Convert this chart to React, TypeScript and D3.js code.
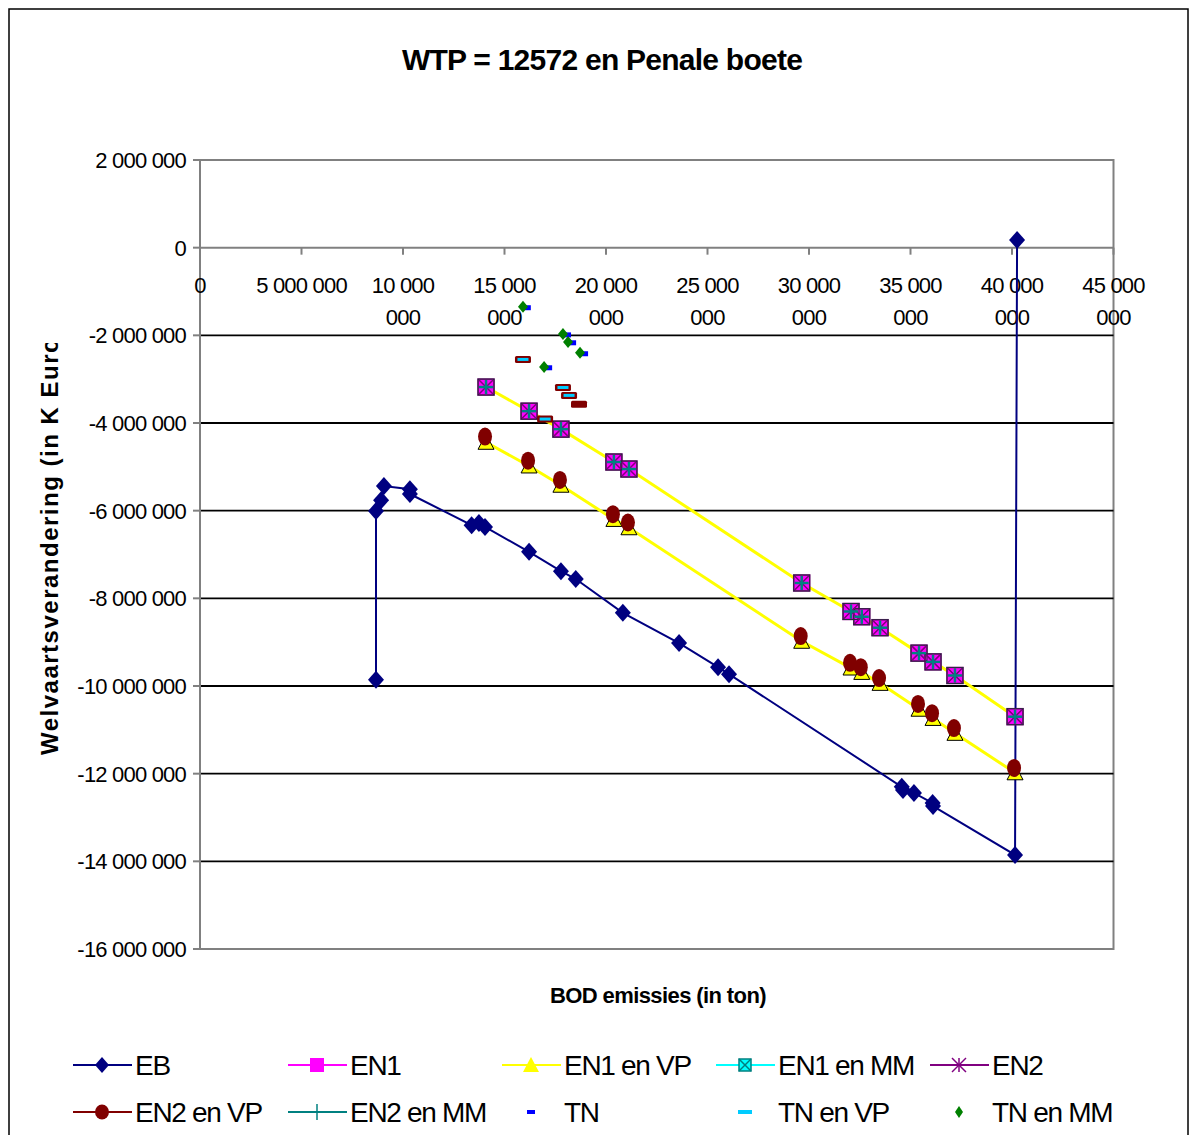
import React from "react";
import * as d3 from "d3";

// ---- Data (x in millions of ton, y in millions of K Euro) ----
const xTicks = [0, 5, 10, 15, 20, 25, 30, 35, 40, 45];
const yTicks = [2, 0, -2, -4, -6, -8, -10, -12, -14, -16];

const ebX = [8.67, 8.67, 8.92, 9.06, 10.34, 10.34, 13.38, 13.74, 14.04, 16.21, 17.78, 18.51, 20.83, 23.6, 25.52, 26.06, 34.57, 34.63, 35.17, 36.09, 36.11, 40.15, 40.25];
const ebY = [-9.86, -6.01, -5.76, -5.44, -5.51, -5.62, -6.33, -6.28, -6.37, -6.94, -7.38, -7.56, -8.33, -9.02, -9.57, -9.73, -12.3, -12.37, -12.44, -12.67, -12.74, -13.855, 0.175];

const enX = [14.09, 16.21, 17.78, 20.39, 21.13, 29.64, 32.07, 32.6, 33.5, 35.42, 36.11, 37.19, 40.15];
const en1Y = [-3.18, -3.73, -4.14, -4.89, -5.05, -7.65, -8.3, -8.42, -8.67, -9.25, -9.45, -9.76, -10.7];
const en1VpY = [-4.44, -4.98, -5.42, -6.2, -6.39, -8.98, -9.59, -9.69, -9.94, -10.53, -10.74, -11.08, -11.98];
const en1MmY = [-3.18, -3.73, -4.14, -4.89, -5.05, -7.65, -8.3, -8.42, -8.67, -9.25, -9.45, -9.76, -10.7];
const en2Y = [-3.18, -3.73, -4.14, -4.89, -5.05, -7.65, -8.3, -8.42, -8.67, -9.25, -9.45, -9.76, -10.7];
const en2VpY = [-4.31, -4.86, -5.3, -6.08, -6.27, -8.86, -9.47, -9.57, -9.82, -10.41, -10.62, -10.96, -11.87];
const en2MmY = [-3.18, -3.73, -4.14, -4.89, -5.05, -7.65, -8.3, -8.42, -8.67, -9.25, -9.45, -9.76, -10.7];

const tnX = [16.1, 18.08, 18.33, 18.92, 17.15];
const tnY = [-1.37, -1.99, -2.17, -2.42, -2.74];
const tnVpX = [15.91, 17.88, 18.18, 17.0];
const tnVpY = [-2.55, -3.19, -3.37, -3.91];
const tnVpEdgeX = [15.91, 17.88, 18.18, 18.67, 17.0];
const tnVpEdgeY = [-2.55, -3.19, -3.37, -3.57, -3.91];
const tnMmX = [15.91, 17.88, 18.13, 18.72, 16.95];
const tnMmY = [-1.35, -1.97, -2.15, -2.4, -2.72];

const legendNames = ["EB", "EN1", "EN1 en VP", "EN1 en MM", "EN2", "EN2 en VP", "EN2 en MM", "TN", "TN en VP", "TN en MM"];

const FONT = "'Liberation Sans', Arial, sans-serif";
const NAVY = "#000080";
const MAGENTA = "#FF00FF";
const YELLOW = "#FFFF00";
const CYAN = "#00FFFF";
const PURPLE = "#800080";
const DARKRED = "#800000";
const TEAL = "#008080";
const BLUE = "#0000FF";
const SKY = "#00CCFF";
const GREEN = "#008000";

const W = 1190;
const H = 1135;
const plot = { left: 200, right: 1113.5, top: 160, bottom: 949 };

const x = d3.scaleLinear().domain([0, 45]).range([plot.left, plot.right]);
const y = d3.scaleLinear().domain([-16, 2]).range([plot.bottom, plot.top]);

const fmt = (v: number) => d3.format(",")(Math.round(v * 1e6)).replace(/,/g, " ").replace("\u2212", "-");

const zip = (xs: number[], ys: number[]) => xs.map((v, i) => [v, ys[i]] as [number, number]);

// ---- Markers ----
const Diamond = ({ cx, cy, w = 8, h = 9, fill = NAVY }: any) => (
  <path d={`M${cx},${cy - h}L${cx + w},${cy}L${cx},${cy + h}L${cx - w},${cy}Z`} fill={fill} />
);
const Square = ({ cx, cy, s = 8 }: any) => (
  <rect x={cx - s} y={cy - s} width={2 * s} height={2 * s} fill={MAGENTA} stroke={PURPLE} strokeWidth={1.5} />
);
const BoxX = ({ cx, cy, s = 8, fill = "none", stroke = "#2a2a40", sw = 1 }: any) => (
  <g stroke={stroke} strokeWidth={sw} fill={fill}>
    <rect x={cx - s} y={cy - s} width={2 * s} height={2 * s} />
    <line x1={cx - s} y1={cy - s} x2={cx + s} y2={cy + s} />
    <line x1={cx - s} y1={cy + s} x2={cx + s} y2={cy - s} />
  </g>
);
const Asterisk = ({ cx, cy, s = 7 }: any) => (
  <g stroke={PURPLE} strokeWidth={1.5}>
    <line x1={cx - s} y1={cy - s} x2={cx + s} y2={cy + s} />
    <line x1={cx - s} y1={cy + s} x2={cx + s} y2={cy - s} />
    <line x1={cx} y1={cy - s} x2={cx} y2={cy + s} />
  </g>
);
const Plus = ({ cx, cy, s = 7, sw = 2.5 }: any) => (
  <g stroke={TEAL} strokeWidth={sw}>
    <line x1={cx - s} y1={cy} x2={cx + s} y2={cy} />
    <line x1={cx} y1={cy - s} x2={cx} y2={cy + s} />
  </g>
);
const Triangle = ({ cx, cy, s = 8, stroke = "#000" }: any) => (
  <path d={`M${cx},${cy - s}L${cx + s},${cy + s - 1}L${cx - s},${cy + s - 1}Z`} fill={YELLOW} stroke={stroke} strokeWidth={1} />
);
const Circle = ({ cx, cy, rx = 7, ry = 9 }: any) => <ellipse cx={cx} cy={cy} rx={rx} ry={ry} fill={DARKRED} />;
const Dash = ({ cx, cy, w = 5, h = 2, fill = BLUE }: any) => (
  <rect x={cx - w} y={cy - h} width={2 * w} height={2 * h} fill={fill} />
);

const legendMarker = (name: string, cx: number, cy: number) => {
  switch (name) {
    case "EB":
      return <Diamond cx={cx} cy={cy} w={7} h={8} />;
    case "EN1":
      return <rect x={cx - 7} y={cy - 7} width={14} height={14} fill={MAGENTA} />;
    case "EN1 en VP":
      return <Triangle cx={cx} cy={cy} s={8} stroke="none" />;
    case "EN1 en MM":
      return <BoxX cx={cx} cy={cy} s={6} fill={CYAN} stroke={TEAL} sw={1.5} />;
    case "EN2":
      return <Asterisk cx={cx} cy={cy} s={7} />;
    case "EN2 en VP":
      return <ellipse cx={cx} cy={cy} rx={7} ry={7.5} fill={DARKRED} />;
    case "EN2 en MM":
      return <Plus cx={cx} cy={cy} s={8} sw={1.5} />;
    case "TN":
      return <Dash cx={cx} cy={cy} w={4} h={2} fill={BLUE} />;
    case "TN en VP":
      return <Dash cx={cx} cy={cy} w={7} h={2} fill={SKY} />;
    case "TN en MM":
      return <Diamond cx={cx} cy={cy} w={4} h={6} fill={GREEN} />;
  }
  return null;
};
const legendLineColor: Record<string, string | null> = {
  EB: NAVY,
  EN1: MAGENTA,
  "EN1 en VP": YELLOW,
  "EN1 en MM": CYAN,
  EN2: PURPLE,
  "EN2 en VP": DARKRED,
  "EN2 en MM": TEAL,
  TN: null,
  "TN en VP": null,
  "TN en MM": null,
};

export default function App() {
  const line = d3
    .line<[number, number]>()
    .x((d) => x(d[0]))
    .y((d) => y(d[1]));

  const eb = zip(ebX, ebY);
  const en1 = zip(enX, en1Y);
  const en1Vp = zip(enX, en1VpY);
  const en1Mm = zip(enX, en1MmY);
  const en2 = zip(enX, en2Y);
  const en2Vp = zip(enX, en2VpY);
  const en2Mm = zip(enX, en2MmY);

  const colStarts = [73, 288, 502, 716, 930];
  const rowYs = [1065, 1112];

  return (
    <svg
      width={W}
      height={H}
      style={{ position: "absolute", left: 0, top: 0, background: "#fff" }}
      fontFamily={FONT}
    >
      <defs>
        <clipPath id="ytitleclip">
          <rect x={0} y={343} width={120} height={600} />
        </clipPath>
      </defs>
      <rect x={0} y={0} width={W} height={H} fill="#fff" />
      {/* chart border */}
      <rect x={9} y={9} width={1179} height={1140} fill="none" stroke="#000" strokeWidth={1.5} />

      {/* title */}
      <text x={602} y={70} textAnchor="middle" fontSize={30} fontWeight="bold" letterSpacing={-0.75}>
        WTP = 12572 en Penale boete
      </text>

      {/* plot border */}
      <rect
        x={plot.left}
        y={plot.top}
        width={plot.right - plot.left}
        height={plot.bottom - plot.top}
        fill="#fff"
        stroke="#808080"
        strokeWidth={2}
      />

      {/* gridlines */}
      {yTicks
        .filter((t) => t !== 2 && t !== 0 && t !== -16)
        .map((t) => (
          <line key={t} x1={plot.left} x2={plot.right} y1={y(t)} y2={y(t)} stroke="#000" strokeWidth={1.8} />
        ))}

      {/* y axis */}
      <line x1={plot.left} x2={plot.left} y1={plot.top} y2={plot.bottom} stroke="#808080" strokeWidth={2} />
      {yTicks.map((t) => (
        <g key={t}>
          <line x1={plot.left - 7} x2={plot.left} y1={y(t)} y2={y(t)} stroke="#808080" strokeWidth={2} />
          <text x={186} y={y(t) + 8} textAnchor="end" fontSize={22} letterSpacing={-0.8}>
            {fmt(t)}
          </text>
        </g>
      ))}

      {/* x axis at y = 0 */}
      <line x1={plot.left} x2={plot.right} y1={y(0)} y2={y(0)} stroke="#808080" strokeWidth={2} />
      {xTicks.map((t) => {
        const s = fmt(t);
        const parts = t >= 10 ? [s.slice(0, s.length - 4), s.slice(s.length - 3)] : [s];
        return (
          <g key={t}>
            <line x1={x(t)} x2={x(t)} y1={y(0)} y2={y(0) + 7} stroke="#808080" strokeWidth={2} />
            {parts.map((p, i) => (
              <text key={i} x={x(t)} y={y(0) + 45 + i * 32} textAnchor="middle" fontSize={22} letterSpacing={-0.8}>
                {p}
              </text>
            ))}
          </g>
        );
      })}

      {/* axis titles */}
      <text x={658} y={1003} textAnchor="middle" fontSize={22} fontWeight="bold" letterSpacing={-0.6}>
        BOD emissies (in ton)
      </text>
      <g clipPath="url(#ytitleclip)">
        <text
          transform={`translate(58,755) rotate(-90)`}
          fontSize={24}
          fontWeight="bold"
          letterSpacing={1.5}
        >
          Welvaartsverandering (in K Euro)
        </text>
      </g>

      {/* series lines */}
      <path d={line(en1) || ""} fill="none" stroke={YELLOW} strokeWidth={3} />
      <path d={line(en1Vp) || ""} fill="none" stroke={YELLOW} strokeWidth={3} />
      <path d={line(eb) || ""} fill="none" stroke={NAVY} strokeWidth={2} />

      {/* markers */}
      {eb.map((d, i) => (
        <Diamond key={"eb" + i} cx={x(d[0])} cy={y(d[1])} />
      ))}
      {en1.map((d, i) => (
        <Square key={"en1" + i} cx={x(d[0])} cy={y(d[1])} />
      ))}
      {en1Vp.map((d, i) => (
        <Triangle key={"en1vp" + i} cx={x(d[0])} cy={y(d[1])} />
      ))}
      {en1Mm.map((d, i) => (
        <BoxX key={"en1mm" + i} cx={x(d[0])} cy={y(d[1])} />
      ))}
      {en2.map((d, i) => (
        <Asterisk key={"en2" + i} cx={x(d[0])} cy={y(d[1])} />
      ))}
      {en2Vp.map((d, i) => (
        <Circle key={"en2vp" + i} cx={x(d[0]) - 1} cy={y(d[1])} />
      ))}
      {en2Mm.map((d, i) => (
        <Plus key={"en2mm" + i} cx={x(d[0])} cy={y(d[1])} />
      ))}
      {zip(tnX, tnY).map((d, i) => (
        <Dash key={"tn" + i} cx={x(d[0])} cy={y(d[1])} w={4} h={2.5} fill={BLUE} />
      ))}
      {zip(tnVpEdgeX, tnVpEdgeY).map((d, i) => (
        <rect key={"tnve" + i} x={x(d[0]) - 8} y={y(d[1]) - 3.5} width={16} height={7} rx={1.5} fill={DARKRED} />
      ))}
      {zip(tnVpX, tnVpY).map((d, i) => (
        <Dash key={"tnvp" + i} cx={x(d[0])} cy={y(d[1])} w={5.5} h={1.5} fill={SKY} />
      ))}
      {zip(tnMmX, tnMmY).map((d, i) => (
        <Diamond key={"tnmm" + i} cx={x(d[0])} cy={y(d[1])} w={5} h={6} fill={GREEN} />
      ))}

      {/* legend */}
      {legendNames.map((name, i) => {
        const col = i % 5;
        const row = Math.floor(i / 5);
        const x0 = colStarts[col];
        const cy = rowYs[row];
        const lc = legendLineColor[name];
        return (
          <g key={name}>
            {lc && <line x1={x0} x2={x0 + 59} y1={cy} y2={cy} stroke={lc} strokeWidth={2} />}
            {legendMarker(name, x0 + 29, cy)}
            <text x={x0 + 62} y={cy + 10} fontSize={28} letterSpacing={-1.3}>
              {name}
            </text>
          </g>
        );
      })}
    </svg>
  );
}
